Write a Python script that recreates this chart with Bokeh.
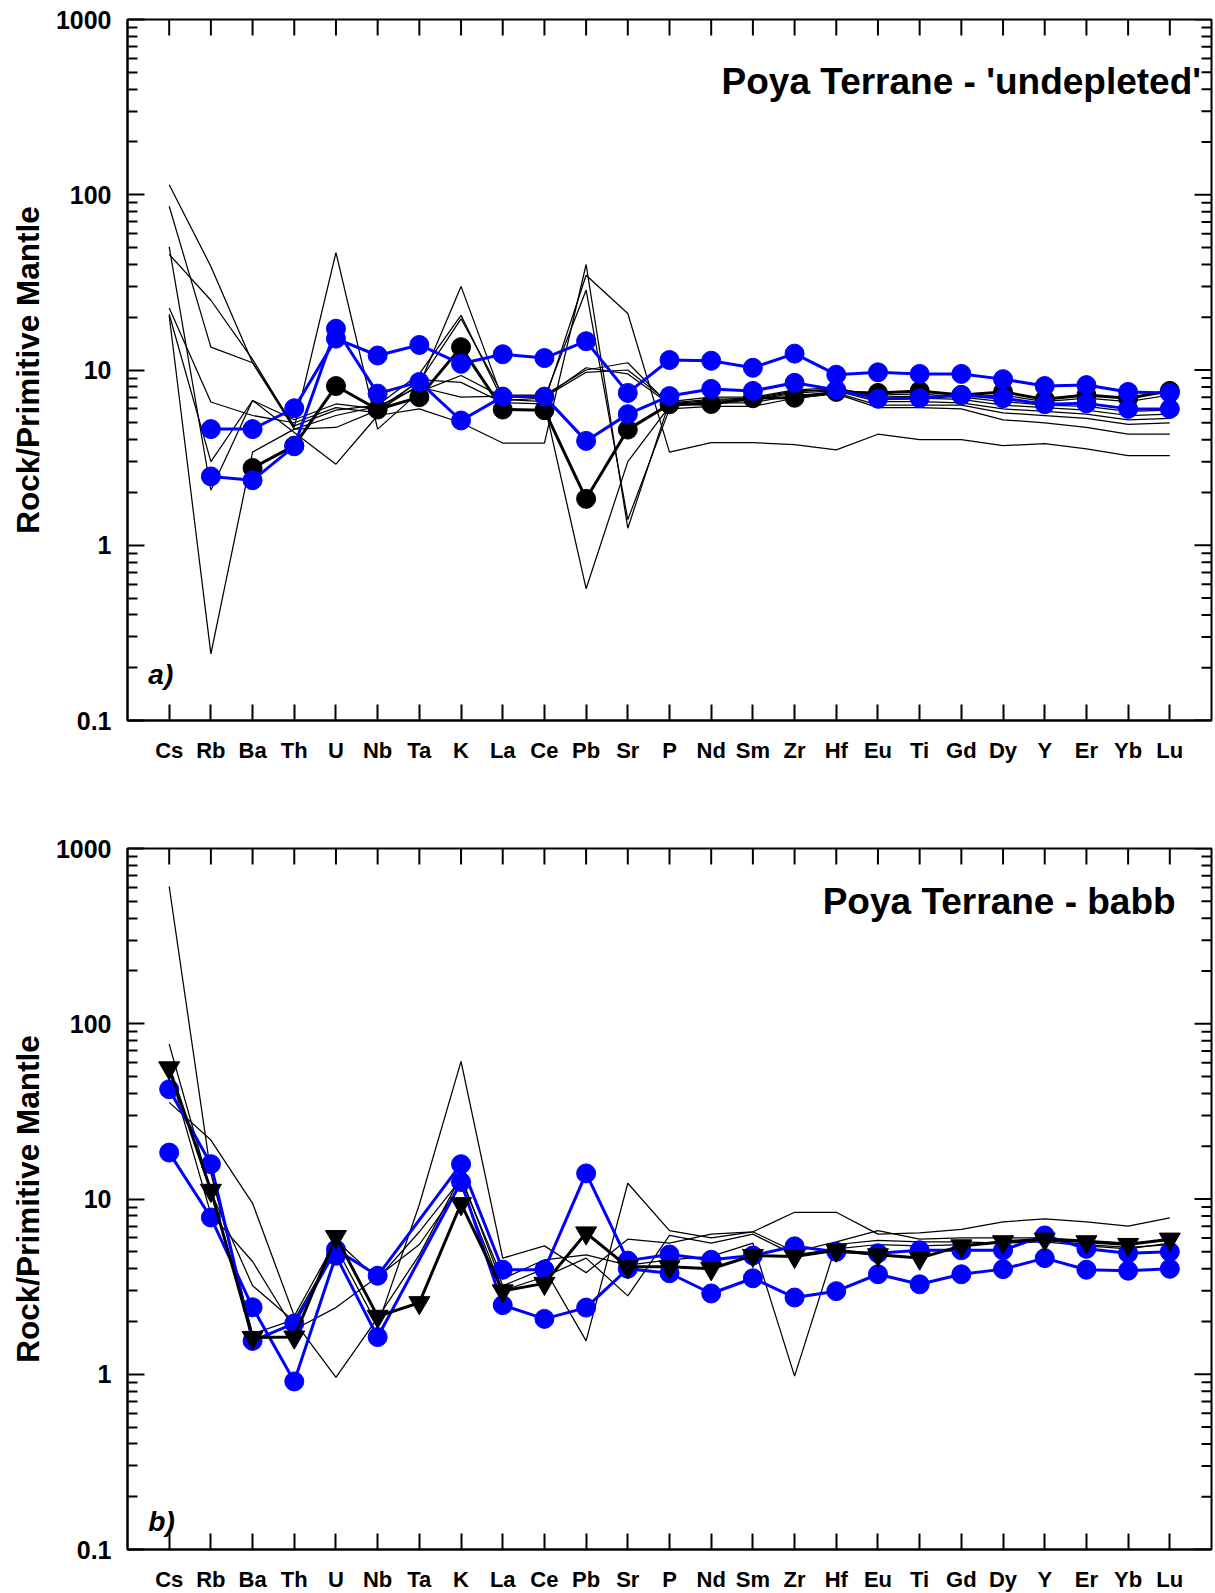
from bokeh.plotting import figure
from bokeh.models import FixedTicker, Label
from bokeh.layouts import column
from bokeh.embed import file_html
from bokeh.resources import INLINE

elements = ["Cs", "Rb", "Ba", "Th", "U", "Nb", "Ta", "K", "La", "Ce", "Pb", "Sr",
            "P", "Nd", "Sm", "Zr", "Hf", "Eu", "Ti", "Gd", "Dy", "Y", "Er", "Yb", "Lu"]

# ---------------- panel a: Poya Terrane - 'undepleted' ----------------
a_thin_1 = [114, 39, 11, 4.8, 5.9, 6.3, 9.5, 20.5, 6.7, 6.9, 28.6, 1.4, 6.0, 6.2, 6.2, 6.9, 7.3, 6.1, 6.1, 6.0, 5.2, 5.0, 4.7, 4.3, 4.3]
a_thin_2 = [86, 13.5, 11, 4.6, 4.7, 5.9, 8.2, 30, 6.8, 6.6, 34.7, 21, 3.4, 3.85, 3.85, 3.75, 3.5, 4.3, 4.0, 4.0, 3.7, 3.8, 3.55, 3.25, 3.25]
a_thin_3 = [50.4, 2.06, 6.7, 5.2, 6.4, 6.0, 8.6, 19.6, 7.2, 7.2, 10, 11, 6.3, 6.6, 6.7, 7.4, 7.6, 6.6, 6.6, 6.5, 6.0, 5.8, 5.6, 5.2, 5.3]
a_thin_4 = [45.7, 25, 11.5, 4.7, 46.8, 4.6, 7.5, 9.3, 7.0, 7.0, 9.7, 10, 6.5, 6.8, 6.9, 7.6, 7.7, 6.8, 6.9, 6.8, 6.3, 6.1, 5.9, 5.5, 5.6]
a_thin_5 = [22.6, 6.57, 5.5, 5.0, 6.1, 5.7, 8.8, 8.5, 6.5, 6.4, 0.565, 3.0, 6.2, 6.5, 6.5, 7.2, 7.4, 6.3, 6.3, 6.3, 5.7, 5.5, 5.3, 4.9, 5.0]
a_thin_6 = [20.8, 3.0, 6.7, 4.4, 2.9, 5.5, 6.0, 5.0, 3.83, 3.83, 40, 1.25, 6.6, 7.0, 7.0, 7.7, 7.9, 7.0, 7.1, 7.0, 6.6, 6.3, 6.2, 5.8, 5.9]
a_thin_7 = [20.4, 0.24, 3.4, 4.6, 5.5, 6.2, 8.0, 7.0, 7.1, 7.0, 10.3, 9.5, 6.4, 6.7, 6.8, 7.5, 7.8, 7.2, 7.3, 7.0, 7.2, 6.6, 6.9, 6.6, 7.2]
a_black = [None, None, 2.76, 3.7, 8.1, 5.95, 7.0, 13.5, 5.95, 5.9, 1.84, 4.57, 6.38, 6.4, 6.9, 6.95, 7.5, 7.4, 7.6, 7.2, 7.5, 6.8, 7.2, 6.9, 7.6]
a_blue_1 = [None, 4.6, 4.6, 6.05, 15.1, 12.1, 13.9, 10.85, 12.3, 11.7, 14.6, 7.4, 11.4, 11.3, 10.3, 12.4, 9.4, 9.7, 9.5, 9.5, 8.87, 8.1, 8.2, 7.5, 7.4]
a_blue_2 = [None, 2.47, 2.35, 3.67, 17.2, 7.33, 8.55, 5.15, 7.05, 7.05, 3.94, 5.6, 7.1, 7.8, 7.6, 8.45, 7.7, 6.86, 6.9, 7.2, 6.9, 6.38, 6.45, 6.0, 6.0]

# ---------------- panel b: Poya Terrane - babb ----------------
b_thin_1 = [607, 14, 1.7, 2.05, 5.3, 1.9, 9.3, 61, 4.6, 5.4, 3.8, 5.9, 5.6, 6.3, 6.5, 8.4, 8.4, 6.3, 6.4, 6.7, 7.4, 7.7, 7.4, 7.0, 7.8]
b_thin_2 = [76.5, 11, 3.2, 2.0, 0.96, 2.1, 4.8, 13.5, 3.2, 4.0, 1.55, 12.3, 6.6, 6.0, 6.5, 5.0, 5.7, 6.6, 5.9, 6.0, 6.0, 6.0, 5.8, 5.6, 5.8]
b_thin_3 = [35.6, 21.7, 9.45, 2.15, 5.8, 3.5, 6.5, 13, 3.5, 4.5, 4.8, 4.2, 4.5, 4.7, 5.6, 0.975, 5.5, 5.8, 5.7, 5.7, 5.6, 5.8, 5.5, 5.3, 5.5]
b_thin_4 = [55, 8.2, 4.4, 1.8, 2.4, 3.6, 5.5, 12, 3.0, 3.6, 4.6, 2.8, 6.2, 5.6, 6.3, 4.8, 5.2, 5.5, 5.4, 5.5, 5.6, 5.7, 5.4, 5.2, 5.6]
b_black = [56, 11.2, 1.62, 1.63, 6.1, 2.14, 2.56, 9.4, 2.99, 3.3, 6.4, 4.1, 4.1, 4.0, 4.76, 4.7, 5.1, 4.8, 4.6, 5.4, 5.7, 5.9, 5.7, 5.5, 5.9]
b_blue_1 = [42.3, 15.8, 1.55, 1.95, 5.15, 3.65, None, 15.8, 3.95, 3.95, 14.0, 4.45, 4.82, 4.5, 4.76, 5.37, 5.0, 4.9, 5.1, 5.1, 5.1, 6.2, 5.2, 4.9, 5.0]
b_blue_2 = [18.4, 7.84, 2.41, 0.91, 4.75, 1.63, None, 12.5, 2.48, 2.07, 2.4, 4.0, 3.77, 2.89, 3.53, 2.74, 2.98, 3.72, 3.26, 3.72, 3.98, 4.6, 3.95, 3.9, 4.0]

y_ticks = [0.1, 1, 10, 100, 1000]
y_tick_labels = ["0.1", "1", "10", "100", "1000"]
y_minor = [m * 10 ** e for e in range(-1, 3) for m in range(2, 10)]

FONT = "Liberation Sans"
BLUE = "#0000FF"
X_MAX = len(elements) + 1


def xy(vals):
    xs = [i + 1 for i, v in enumerate(vals) if v is not None]
    ys = [v for v in vals if v is not None]
    return xs, ys


def make_panel(title, tag, thin, black, blues, black_marker, top_border, bottom_border,
               title_x, title_y, tag_y):
    yt = FixedTicker(ticks=y_ticks, minor_ticks=y_minor)
    x_pos = list(range(1, len(elements) + 1))
    xt = FixedTicker(ticks=x_pos, minor_ticks=[])
    p = figure(frame_width=1084, frame_height=701, x_range=(0, X_MAX), y_range=(0.1, 1000),
               y_axis_type="log", output_backend="svg", toolbar_location=None,
               min_border_left=127, min_border_right=4, min_border_top=top_border,
               min_border_bottom=bottom_border, background_fill_color="white",
               border_fill_color="white")
    p.grid.visible = False
    p.outline_line_color = "black"
    p.outline_line_width = 2

    # bottom x axis
    xa = p.xaxis[0]
    xa.ticker = xt
    xa.major_label_overrides = {i + 1: e for i, e in enumerate(elements)}
    xa.major_tick_in = 16
    xa.major_tick_out = 0
    xa.minor_tick_in = 0
    xa.minor_tick_out = 0
    xa.axis_line_width = 2
    xa.major_tick_line_width = 2
    xa.major_label_standoff = 17
    xa.major_label_text_font = FONT
    xa.major_label_text_font_style = "bold"
    xa.major_label_text_font_size = "22px"
    xa.major_label_text_color = "black"

    # left y axis
    ya = p.yaxis[0]
    ya.ticker = yt
    ya.major_label_overrides = dict(zip(y_ticks, y_tick_labels))
    ya.major_tick_in = 17
    ya.major_tick_out = 0
    ya.minor_tick_in = 10
    ya.minor_tick_out = 0
    ya.axis_line_width = 2
    ya.major_tick_line_width = 2
    ya.minor_tick_line_width = 2
    ya.major_label_standoff = 16
    ya.major_label_text_font = FONT
    ya.major_label_text_font_style = "bold"
    ya.major_label_text_font_size = "25px"
    ya.major_label_text_color = "black"
    ya.axis_label = "Rock/Primitive Mantle"
    ya.axis_label_text_font = FONT
    ya.axis_label_text_font_style = "bold"
    ya.axis_label_text_font_size = "31.5px"
    ya.axis_label_standoff = 7
    ya.axis_label_text_color = "black"

    # mirrored ticks on the top and right frame edges (screen-length rays)
    p.ray(x=x_pos, y=[y_ticks[-1]] * len(x_pos), length=16, angle=-90, angle_units="deg",
          length_units="screen", line_color="black", line_width=2)
    p.ray(x=[X_MAX] * len(y_ticks), y=y_ticks, length=17, angle=180, angle_units="deg",
          length_units="screen", line_color="black", line_width=2)
    p.ray(x=[X_MAX] * len(y_minor), y=y_minor, length=10, angle=180, angle_units="deg",
          length_units="screen", line_color="black", line_width=2)

    for t in thin:
        xs, ys = xy(t)
        p.line(xs, ys, line_color="black", line_width=1.25)

    def draw_black():
        xs, ys = xy(black)
        p.line(xs, ys, line_color="black", line_width=3)
        p.scatter(xs, ys, marker=black_marker, size=19 if black_marker == "circle" else 21,
                  fill_color="black", line_color="black")

    def draw_blue():
        for b in blues:
            xs, ys = xy(b)
            p.line(xs, ys, line_color=BLUE, line_width=3)
            p.scatter(xs, ys, marker="circle", size=19, fill_color=BLUE, line_color=BLUE)

    if black_marker == "circle":
        draw_black()
        draw_blue()
    else:
        draw_blue()
        draw_black()

    p.add_layout(Label(x=title_x, y=title_y, text=title, text_align="right",
                       text_baseline="alphabetic", text_font=FONT, text_font_style="bold",
                       text_font_size="37px", text_color="black"))
    p.add_layout(Label(x=0.5, y=tag_y, text=tag, text_align="left",
                       text_baseline="alphabetic", text_font=FONT,
                       text_font_style="bold italic", text_font_size="28px",
                       text_color="black"))
    return p


p1 = make_panel("Poya Terrane - 'undepleted'", "a)",
                [a_thin_1, a_thin_2, a_thin_3, a_thin_4, a_thin_5, a_thin_6, a_thin_7],
                a_black, [a_blue_1, a_blue_2], "circle", 19, 80, 25.75, 443, 0.182)
p2 = make_panel("Poya Terrane - babb", "b)",
                [b_thin_1, b_thin_2, b_thin_3, b_thin_4],
                b_black, [b_blue_1, b_blue_2], "inverted_triangle", 48, 44, 25.14, 496, 0.145)

layout = column(p1, p2, spacing=0)
open("out.html", "w").write(file_html(layout, INLINE))
